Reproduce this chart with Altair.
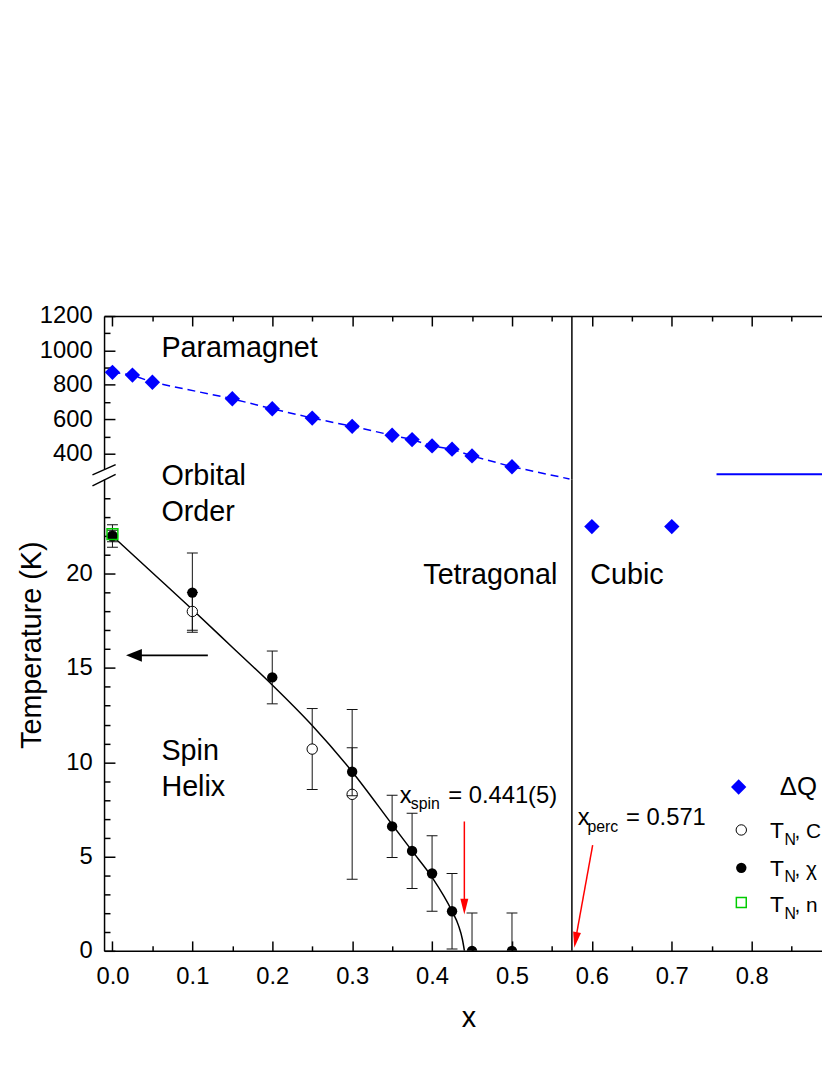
import altair as alt
import pandas as pd

FONT = "Liberation Sans"
BLUE = "#0000ff"
GREEN = "#00cc00"
RED = "#ff0000"

# ---------------- values ----------------
# upper panel: orbital-order temperature (K)
dq_x = [0.0, 0.025, 0.05, 0.15, 0.2, 0.25, 0.3, 0.35, 0.375, 0.4, 0.425, 0.45, 0.5]
dq_T = [873, 857, 815, 719, 661, 607, 559, 507, 482, 445, 426, 387, 324]
dq_guide_x = [0.0, 0.025, 0.05, 0.15, 0.2, 0.25, 0.3, 0.35, 0.375, 0.4, 0.425, 0.45, 0.5, 0.572]
dq_guide_T = [873, 857, 815, 719, 661, 607, 559, 507, 482, 445, 426, 387, 324, 253]
level_x = [0.756, 0.95]
level_T = [280, 280]
cubic_x = [0.6, 0.7]
cubic_T = [22.5, 22.5]
x_boundary = [0.575]

# lower panel: Neel temperature (K)
chi_x = [0.0, 0.1, 0.2, 0.3, 0.35, 0.375, 0.4, 0.425, 0.45, 0.5]
chi_T = [22.0, 19.0, 14.5, 9.5, 6.6, 5.3, 4.1, 2.1, 0.0, 0.0]
chi_err = [0.3, 2.1, 1.4, 1.27, 1.65, 2.0, 2.0, 2.0, 2.0, 2.0]
cp_x = [0.0, 0.1, 0.25, 0.3]
cp_T = [22.0, 18.0, 10.7, 8.3]
cp_err = [0.6, 1.0, 2.15, 4.5]
nd_x = [0.0]
nd_T = [22.1]
fit_x = [0.0, 0.05, 0.1, 0.15, 0.2, 0.25, 0.3, 0.35, 0.375, 0.4, 0.425, 0.433, 0.438, 0.4405]
fit_T = [22.0, 20.05, 18.1, 16.1, 14.1, 11.95, 9.5, 6.7, 5.3, 3.9, 2.1, 1.35, 0.6, 0.0]

# axes
X_DOMAIN = [-0.0105, 0.888]
TOP_DOMAIN = [250, 1200]
BOT_DOMAIN = [0, 25]
x_major = [0.0, 0.1, 0.2, 0.3, 0.4, 0.5, 0.6, 0.7, 0.8]
x_minor = [0.05, 0.15, 0.25, 0.35, 0.45, 0.55, 0.65, 0.75, 0.85]
top_major = [400, 600, 800, 1000, 1200]
top_minor = [500, 700, 900, 1100]
bot_major = [0, 5, 10, 15, 20]
bot_minor = [1, 2, 3, 4, 6, 7, 8, 9, 11, 12, 13, 14, 16, 17, 18, 19, 21, 22, 23, 24]

# annotations (text, x, T, font size)
top_labels = [("Paramagnet", 0.0613, 960, 29)]
region_labels = [
    ("Orbital", 0.0613, 24.71, 29), ("Order", 0.0613, 22.78, 29),
    ("Tetragonal", 0.389, 19.47, 29), ("Cubic", 0.598, 19.45, 29),
    ("Spin", 0.0613, 10.12, 29), ("Helix", 0.0613, 8.23, 29),
    ("x", 0.3595, 7.84, 24), ("spin", 0.3733, 7.53, 16), ("= 0.441(5)", 0.4202, 7.84, 24),
    ("x", 0.5823, 6.67, 24), ("perc", 0.5945, 6.32, 16), ("= 0.571", 0.6426, 6.67, 24),
]
legend_labels = [
    ("ΔQ", 0.8351, 8.25, 26),
    ("T", 0.8228, 5.97, 23), ("N", 0.841, 5.62, 16), (", C", 0.8535, 5.97, 21),
    ("T", 0.8228, 3.98, 23), ("N", 0.841, 3.63, 16), (", χ", 0.8535, 3.98, 21),
    ("T", 0.8228, 2.04, 23), ("N", 0.841, 1.69, 16), (", n", 0.8535, 2.04, 21),
]
legend_diamond = ([0.7837], [8.69])
legend_open = ([0.787], [6.41])
legend_filled = ([0.787], [4.40])
legend_square = ([0.787], [2.56])

# arrows: shaft start, shaft end, tip, head angle
red_shafts = {"x": [0.4404, 0.601], "T": [6.86, 5.6], "x2": [0.4404, 0.5805], "T2": [2.6, 0.8]}
red_heads = {"x": [0.4404, 0.578], "T": [1.92, 0.16], "angle": [0, 10]}
black_shaft = {"x": [0.1194], "T": [15.67], "x2": [0.03], "T2": [15.67]}
black_head = {"x": [0.017], "T": [15.67], "angle": [90]}

# axis break marks
break_slashes = {"x": [-0.025, -0.025], "T": [25.24, 24.66], "x2": [0.004, 0.004], "T2": [25.79, 25.27]}
break_gap = {"x": [-0.013], "x2": [-0.008], "T": [25.0], "T2": [25.55]}

W, H_TOP, H_BOT = 725, 165, 476

xs = alt.Scale(domain=X_DOMAIN, nice=False, zero=False)
yt = alt.Scale(domain=TOP_DOMAIN, nice=False, zero=False)
yb = alt.Scale(domain=BOT_DOMAIN, nice=False, zero=False)


def axis(orient, values, labels=False, ticks=False, domain=False, size=0, **kw):
    d = dict(orient=orient, values=values, labels=labels, ticks=ticks, domain=domain,
             title=None, grid=False, labelFlush=False, labelOverlap=False, minExtent=0)
    if ticks:
        d.update(tickSize=size, offset=-size)
    d.update(kw)
    return alt.Axis(**d)


def X(axis_=None, field="x"):
    return alt.X(f"{field}:Q", scale=xs, axis=axis_)


def Y(scale, axis_=None, field="T"):
    return alt.Y(f"{field}:Q", scale=scale, axis=axis_)


def texts(rows):
    return pd.DataFrame(rows, columns=["text", "x", "T", "fs"])


# ---------------- top panel ----------------
top_guide = alt.Chart(pd.DataFrame({"x": dq_guide_x, "T": dq_guide_T})).mark_line(
    color=BLUE, strokeDash=[8, 5], strokeWidth=1.5
).encode(
    x=X(axis("top", x_major, domain=True)),
    y=Y(yt, axis("left", top_major, labels=True, domain=True, labelPadding=12, format="d")),
)
top_pts = alt.Chart(pd.DataFrame({"x": dq_x, "T": dq_T})).mark_point(
    shape="diamond", filled=True, color=BLUE, size=240, opacity=1
).encode(
    x=X(axis("top", x_major, ticks=True, size=10)),
    y=Y(yt, axis("left", top_major, ticks=True, size=11)),
)
top_level = alt.Chart(pd.DataFrame({"x": level_x, "T": level_T})).mark_line(
    color=BLUE, strokeWidth=2, clip=True
).encode(
    x=X(axis("top", x_minor, ticks=True, size=5)),
    y=Y(yt, axis("left", top_minor, ticks=True, size=6)),
)
top_rule = alt.Chart(pd.DataFrame({"x": x_boundary})).mark_rule(color="black", strokeWidth=1.5).encode(x=X())
top_text = alt.Chart(texts(top_labels)).mark_text(align="left", baseline="alphabetic", color="black").encode(
    x=X(), y=Y(yt), text="text:N", size=alt.Size("fs:Q", scale=None)
)
top = alt.layer(top_guide, top_pts, top_level, top_rule, top_text).properties(
    width=W, height=H_TOP
).resolve_axis(x="independent", y="independent")

# ---------------- bottom panel ----------------
def errtable(xv, tv, ev):
    return pd.DataFrame({"x": xv, "T": tv,
                         "lo": [t - e for t, e in zip(tv, ev)],
                         "hi": [t + e for t, e in zip(tv, ev)]})


def captable(df):
    return pd.concat([df[["x", "lo"]].rename(columns={"lo": "T"}),
                      df[["x", "hi"]].rename(columns={"hi": "T"})], ignore_index=True)


cp_df = errtable(cp_x, cp_T, cp_err)
chi_df = errtable(chi_x, chi_T, chi_err)

b_rule = alt.Chart(pd.DataFrame({"x": x_boundary})).mark_rule(color="black", strokeWidth=1.5).encode(x=X())
b_fit = alt.Chart(pd.DataFrame({"x": fit_x, "T": fit_T})).mark_line(
    color="black", strokeWidth=1.5, interpolate="monotone", clip=True
).encode(
    x=X(axis("bottom", x_major, labels=True, domain=True, labelPadding=14.5, format=".1f")),
    y=Y(yb, axis("left", bot_major, labels=True, domain=True, labelPadding=12, format="d")),
)
cp_bars = alt.Chart(cp_df).mark_rule(color="#111111", strokeWidth=1, clip=True).encode(
    x=X(axis("bottom", x_minor, ticks=True, size=5)),
    y=Y(yb, axis("left", bot_minor, ticks=True, size=6), field="lo"),
    y2="hi:Q",
)
cp_caps = alt.Chart(captable(cp_df)).mark_tick(
    orient="horizontal", size=11, thickness=1, color="#111111", opacity=1, clip=True
).encode(x=X(), y=Y(yb))
cp_pts = alt.Chart(cp_df).mark_point(
    shape="circle", filled=True, fill="white", stroke="black", strokeWidth=1, size=110, opacity=1, clip=True
).encode(x=X(), y=Y(yb))
chi_bars = alt.Chart(chi_df).mark_rule(color="#111111", strokeWidth=1, clip=True).encode(
    x=X(), y=Y(yb, field="lo"), y2="hi:Q"
)
chi_caps = alt.Chart(captable(chi_df)).mark_tick(
    orient="horizontal", size=11, thickness=1, color="#111111", opacity=1, clip=True
).encode(x=X(), y=Y(yb))
chi_pts = alt.Chart(chi_df).mark_point(
    shape="circle", filled=True, color="black", size=110, opacity=1, clip=True
).encode(
    x=X(axis("bottom", x_major, ticks=True, size=10)),
    y=Y(yb, axis("left", bot_major, ticks=True, size=11)),
)
nd_pts = alt.Chart(pd.DataFrame({"x": nd_x, "T": nd_T})).mark_point(
    shape="square", filled=False, color=GREEN, strokeWidth=1.5, size=120, opacity=1
).encode(x=X(), y=Y(yb))
cubic_pts = alt.Chart(pd.DataFrame({"x": cubic_x, "T": cubic_T})).mark_point(
    shape="diamond", filled=True, color=BLUE, size=240, opacity=1
).encode(x=X(), y=Y(yb))

# arrows
red_shaft_ch = alt.Chart(pd.DataFrame(red_shafts)).mark_rule(color=RED, strokeWidth=1.5).encode(
    x=X(), y=Y(yb), x2="x2:Q", y2="T2:Q")
red_head_ch = alt.Chart(pd.DataFrame(red_heads)).mark_point(
    shape="M0,0L-0.5,-2L0.5,-2Z", filled=True, color=RED, size=256, opacity=1
).encode(x=X(), y=Y(yb), angle=alt.Angle("angle:Q", scale=None))
black_shaft_ch = alt.Chart(pd.DataFrame(black_shaft)).mark_rule(color="black", strokeWidth=2).encode(
    x=X(), y=Y(yb), x2="x2:Q", y2="T2:Q")
black_head_ch = alt.Chart(pd.DataFrame(black_head)).mark_point(
    shape="M0,0L-0.8,-2L0.8,-2Z", filled=True, color="black", size=256, opacity=1
).encode(x=X(), y=Y(yb), angle=alt.Angle("angle:Q", scale=None))

# labels
b_text = alt.Chart(texts(region_labels)).mark_text(align="left", baseline="alphabetic", color="black").encode(
    x=X(), y=Y(yb), text="text:N", size=alt.Size("fs:Q", scale=None))
leg_text = alt.Chart(texts(legend_labels)).mark_text(
    align="left", baseline="alphabetic", color="black", clip=True
).encode(x=X(), y=Y(yb), text="text:N", size=alt.Size("fs:Q", scale=None))
leg_d = alt.Chart(pd.DataFrame({"x": legend_diamond[0], "T": legend_diamond[1]})).mark_point(
    shape="diamond", filled=True, color=BLUE, size=240, opacity=1).encode(x=X(), y=Y(yb))
leg_o = alt.Chart(pd.DataFrame({"x": legend_open[0], "T": legend_open[1]})).mark_point(
    shape="circle", filled=True, fill="white", stroke="black", strokeWidth=1, size=110, opacity=1
).encode(x=X(), y=Y(yb))
leg_f = alt.Chart(pd.DataFrame({"x": legend_filled[0], "T": legend_filled[1]})).mark_point(
    shape="circle", filled=True, color="black", size=110, opacity=1).encode(x=X(), y=Y(yb))
leg_s = alt.Chart(pd.DataFrame({"x": legend_square[0], "T": legend_square[1]})).mark_point(
    shape="square", filled=False, color=GREEN, strokeWidth=1.5, size=100, opacity=1).encode(x=X(), y=Y(yb))

# axis titles
x_title = alt.Chart(pd.DataFrame({"text": ["x"], "x": [0.446], "T": [-4.06]})).mark_text(
    align="center", baseline="alphabetic", fontSize=29, color="black").encode(x=X(), y=Y(yb), text="text:N")
y_title = alt.Chart(pd.DataFrame({"text": ["Temperature (K)"], "x": [-0.1009], "T": [16.21]})).mark_text(
    align="center", baseline="middle", fontSize=29, angle=270, color="black").encode(x=X(), y=Y(yb), text="text:N")

# axis break
gap = alt.Chart(pd.DataFrame(break_gap)).mark_rect(color="white", opacity=1).encode(
    x=X(), x2="x2:Q", y=Y(yb), y2="T2:Q")
slashes = alt.Chart(pd.DataFrame(break_slashes)).mark_rule(color="black", strokeWidth=1.5).encode(
    x=X(), y=Y(yb), x2="x2:Q", y2="T2:Q")

bottom = alt.layer(
    b_rule, b_fit, cp_bars, cp_caps, cp_pts, chi_bars, chi_caps, chi_pts, nd_pts, cubic_pts,
    red_shaft_ch, red_head_ch, black_shaft_ch, black_head_ch, b_text,
    leg_d, leg_o, leg_f, leg_s, leg_text, x_title, y_title, gap, slashes,
).properties(width=W, height=H_BOT).resolve_axis(x="independent", y="independent")

chart = alt.vconcat(top, bottom, spacing=0, bounds="flush").resolve_scale(
    x="independent", y="independent"
).properties(
    padding={"left": 10, "top": 294, "right": 0, "bottom": 5}
).configure(font=FONT).configure_view(stroke=None).configure_axis(
    labelFont=FONT, labelFontSize=24, labelColor="black", labelFontWeight="normal",
    domainColor="black", tickColor="black", domainWidth=1.5, tickWidth=1.5,
)

chart.save("out.html", embed_options={"renderer": "svg", "actions": False})
